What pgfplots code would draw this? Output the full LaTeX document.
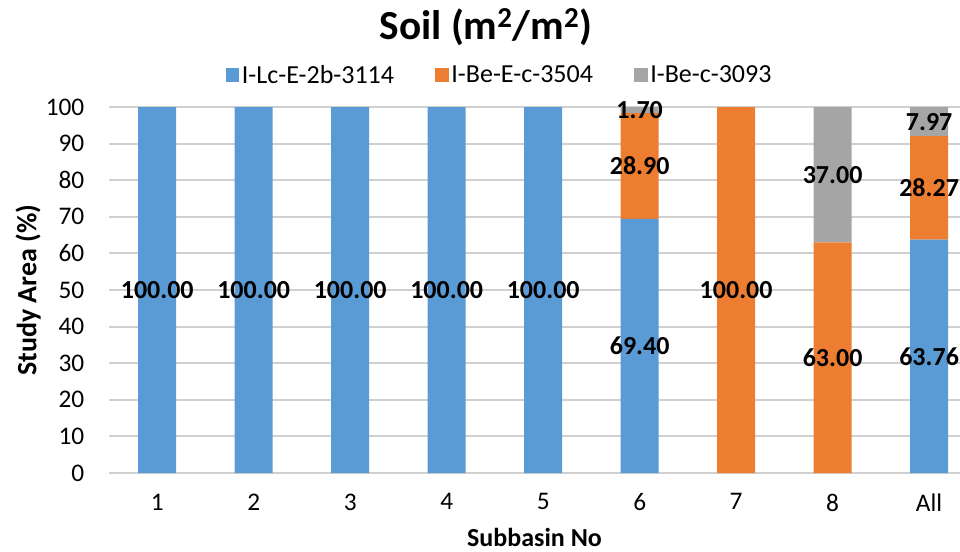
\documentclass[border=0pt]{standalone}
\usepackage{pgfplots}
\pgfplotsset{compat=1.18}
\usepackage{fontspec}
\setmainfont{Carlito}
\definecolor{cblue}{HTML}{5B9BD5}
\definecolor{corange}{HTML}{ED7D31}
\definecolor{cgray}{HTML}{A5A5A5}
\definecolor{gridc}{HTML}{D0D0D0}
\begin{document}
\begin{tikzpicture}
\useasboundingbox (0,0) rectangle (720pt,413.25pt);
\node[anchor=base,font=\fontsize{31}{36}\selectfont\bfseries] at (364.5pt,383.25pt) {Soil (m\textsuperscript{2}/m\textsuperscript{2})};
% background axis: grid lines
\begin{axis}[
  at={(81.75pt,58.5pt)}, anchor=south west,
  scale only axis, width=638.25pt, height=274.5pt,
  xmin=-0.5, xmax=8.32, ymin=0, ymax=100,
  axis lines=none, clip=false,
]
\addplot[gridc, line width=1.5pt, forget plot] coordinates {(-0.5,10) (8.32,10)};
\addplot[gridc, line width=1.5pt, forget plot] coordinates {(-0.5,20) (8.32,20)};
\addplot[gridc, line width=1.5pt, forget plot] coordinates {(-0.5,30) (8.32,30)};
\addplot[gridc, line width=1.5pt, forget plot] coordinates {(-0.5,40) (8.32,40)};
\addplot[gridc, line width=1.5pt, forget plot] coordinates {(-0.5,50) (8.32,50)};
\addplot[gridc, line width=1.5pt, forget plot] coordinates {(-0.5,60) (8.32,60)};
\addplot[gridc, line width=1.5pt, forget plot] coordinates {(-0.5,70) (8.32,70)};
\addplot[gridc, line width=1.5pt, forget plot] coordinates {(-0.5,80) (8.32,80)};
\addplot[gridc, line width=1.5pt, forget plot] coordinates {(-0.5,90) (8.32,90)};
\addplot[gridc, line width=1.5pt, forget plot] coordinates {(-0.5,100) (8.32,100)};
\end{axis}
% bars
\begin{axis}[
  at={(81.75pt,58.5pt)}, anchor=south west,
  scale only axis, width=638.25pt, height=274.5pt,
  ybar stacked, bar width=28.5pt,
  xmin=-0.5, xmax=8.32, ymin=0, ymax=100,
  xtick={0,...,8}, xticklabels={1,2,3,4,5,6,7,8,All},
  ytick={0,10,...,100},
  axis x line*=bottom, axis y line*=left,
  x axis line style={gridc, line width=1.5pt, -},
  y axis line style={opacity=0, -},
  major tick length=0pt,
  tick label style={font=\fontsize{19}{21}\selectfont},
  /pgf/number format/assume math mode=true,
  yticklabel style={xshift=-15pt},
  xticklabel style={yshift=-12pt},
  xlabel={\bfseries Subbasin No},
  xlabel style={font=\fontsize{19.5}{22}\selectfont, at={(axis description cs:0.5,-0.175)}, anchor=center},
  ylabel={\bfseries Study Area (\%)},
  ylabel style={font=\fontsize{21}{24}\selectfont, at={(axis description cs:-0.095,0.5)}, anchor=center},
  legend columns=3,
  legend style={draw=none, fill=none, at={(axis description cs:0.4595,1.087)}, anchor=center,
    font=\fontsize{19.5}{22}\selectfont, /tikz/every even column/.append style={column sep=29pt}},
  legend image code/.code={\fill[#1] (0pt,-5pt) rectangle (10pt,5pt);},
]
\addplot[fill=cblue, draw=none] coordinates {(0,100) (1,100) (2,100) (3,100) (4,100) (5,69.40) (6,0) (7,0) (8,63.76)};
\addplot[fill=corange, draw=none] coordinates {(0,0) (1,0) (2,0) (3,0) (4,0) (5,28.90) (6,100) (7,63.00) (8,28.27)};
\addplot[fill=cgray, draw=none] coordinates {(0,0) (1,0) (2,0) (3,0) (4,0) (5,1.70) (6,0) (7,37.00) (8,7.97)};
\legend{I-Lc-E-2b-3114, I-Be-E-c-3504, I-Be-c-3093}
\end{axis}
% value labels
\begin{axis}[
  at={(81.75pt,58.5pt)}, anchor=south west,
  scale only axis, width=638.25pt, height=274.5pt,
  xmin=-0.5, xmax=8.32, ymin=0, ymax=100,
  axis lines=none,
]
\addplot[only marks, mark=none, nodes near coords, point meta=explicit symbolic,
  nodes near coords align={center},
  every node near coord/.append style={font=\fontsize{19.5}{22}\selectfont\bfseries, text=black, anchor=center}]
  table[meta=lab] {
x y lab
0 50 100.00
1 50 100.00
2 50 100.00
3 50 100.00
4 50 100.00
5 34.70 69.40
5 83.85 28.90
5 99.15 1.70
6 50 100.00
7 31.50 63.00
7 81.50 37.00
8 31.88 63.76
8 77.895 28.27
8 96.015 7.97
};
\end{axis}
\end{tikzpicture}
\end{document}
